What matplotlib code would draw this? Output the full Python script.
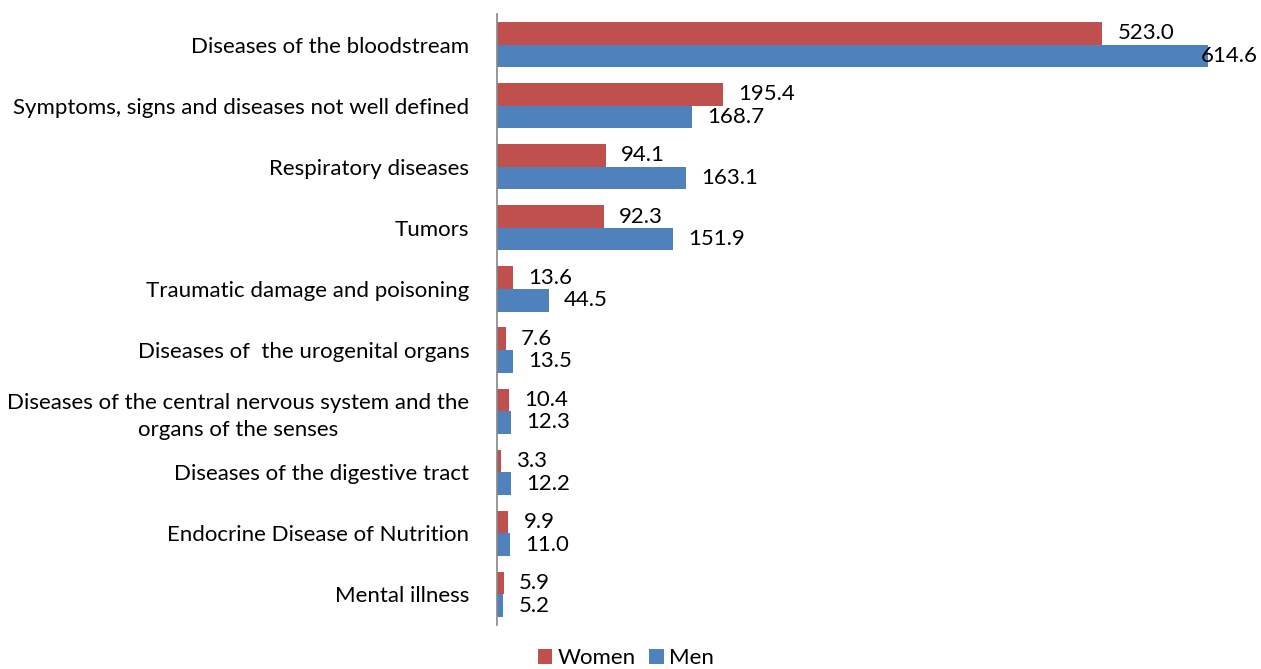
import numpy as np
import matplotlib
matplotlib.use("Agg")
import matplotlib.pyplot as plt

plt.rcParams['font.family'] = ['Lato', 'DejaVu Sans']

# data, top to bottom as shown
categories = [
    "Diseases of the bloodstream",
    "Symptoms, signs and diseases not well defined",
    "Respiratory diseases",
    "Tumors",
    "Traumatic damage and poisoning",
    "Diseases of  the urogenital organs",
    "Diseases of the central nervous system and the\norgans of the senses",
    "Diseases of the digestive tract",
    "Endocrine Disease of Nutrition",
    "Mental illness",
]
women = [523.0, 195.4, 94.1, 92.3, 13.6, 7.6, 10.4, 3.3, 9.9, 5.9]
men = [614.6, 168.7, 163.1, 151.9, 44.5, 13.5, 12.3, 12.2, 11.0, 5.2]

col_women = "#C0504D"
col_men = "#4F81BD"
fs = 16

fig = plt.figure(figsize=(12.61, 6.69), dpi=100)
ax = fig.add_axes([497 / 1261, 1 - 625 / 669, 1 - 497 / 1261, (625 - 14) / 669])

y = np.arange(len(categories))
h = 0.37
bw = ax.barh(y - h / 2, women, height=h, color=col_women, label="Women")
bm = ax.barh(y + h / 2, men, height=h, color=col_men, label="Men")

xmax = 660
ax.set_xlim(0, xmax)
ax.set_ylim(len(categories) - 0.5, -0.5)

# value labels
for bars, vals in ((bw, women), (bm, men)):
    for b, v in zip(bars, vals):
        yc = b.get_y() + b.get_height() / 2
        if v > 600:
            ax.annotate(f"{v:.1f}", (xmax, yc), xytext=(-2, 0), textcoords="offset points",
                        ha="right", va="center", fontsize=fs)
        else:
            ax.annotate(f"{v:.1f}", (v, yc), xytext=(11, 0), textcoords="offset points",
                        ha="left", va="center", fontsize=fs)

ax.set_yticks(y)
ax.set_yticklabels(categories, fontsize=fs, multialignment="center", linespacing=1.45)
ax.tick_params(axis="y", length=0, pad=20)
ax.set_xticks([])

for s in ("top", "right", "bottom"):
    ax.spines[s].set_visible(False)
ax.spines["left"].set_color("#868686")
ax.spines["left"].set_linewidth(1.2)

fig.legend(handles=[bw, bm], loc="center", bbox_to_anchor=(626 / 1261, 1 - 658 / 669),
           ncol=2, frameon=False, fontsize=fs, handlelength=0.65, handleheight=0.65,
           handletextpad=0.25, columnspacing=0.6, borderaxespad=0)

fig.savefig("out.png", dpi=100)
